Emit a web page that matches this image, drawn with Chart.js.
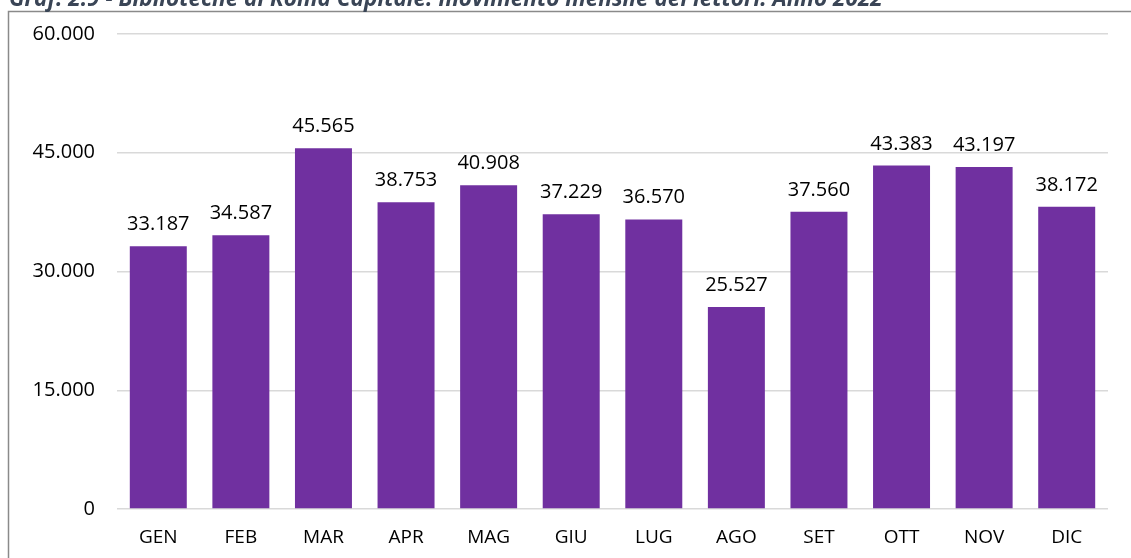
<!DOCTYPE html>
<html>
<head>
<meta charset="utf-8">
<script src="https://cdn.jsdelivr.net/npm/chart.js@4.4.1/dist/chart.umd.min.js"></script>
<style>
  html, body { margin: 0; padding: 0; background: #ffffff; }
  #wrap { position: relative; width: 1131px; height: 558px; }
</style>
</head>
<body>
<div id="wrap"><canvas id="c" width="1131" height="558"></canvas></div>
<script>
const titleText = "Graf. 2.9 - Biblioteche di Roma Capitale: movimento mensile dei lettori. Anno 2022";
const months = ["GEN", "FEB", "MAR", "APR", "MAG", "GIU", "LUG", "AGO", "SET", "OTT", "NOV", "DIC"];
const lettori = [33187, 34587, 45565, 38753, 40908, 37229, 36570, 25527, 37560, 43383, 43197, 38172];
const yTicks = [0, 15000, 30000, 45000, 60000];

const FONT = "'Open Sans', 'Liberation Sans', sans-serif";

function fmt(v) {
  const s = String(Math.round(v));
  return s.replace(/\B(?=(\d{3})+(?!\d))/g, ".");
}

const framePlugin = {
  id: 'frame',
  beforeDraw(chart) {
    const ctx = chart.ctx;
    ctx.save();
    ctx.fillStyle = '#ffffff';
    ctx.fillRect(0, 0, chart.width, chart.height);
    ctx.strokeStyle = '#8a8a8a';
    ctx.lineWidth = 1.5;
    ctx.beginPath();
    ctx.moveTo(8.5, chart.height + 5);
    ctx.lineTo(8.5, 11.5);
    ctx.lineTo(chart.width + 5, 11.5);
    ctx.stroke();
    // title (clipped at top)
    let size = 20;
    ctx.font = `italic bold ${size}px ${FONT}`;
    const w = ctx.measureText(titleText).width;
    size = size * 874 / w;
    ctx.font = `italic bold ${size}px ${FONT}`;
    ctx.fillStyle = '#3a4556';
    ctx.textBaseline = 'alphabetic';
    ctx.textAlign = 'left';
    ctx.fillText(titleText, 9, 6);
    ctx.restore();
  }
};

const labelPlugin = {
  id: 'vlabels',
  afterDatasetsDraw(chart) {
    const ctx = chart.ctx;
    const meta = chart.getDatasetMeta(0);
    ctx.save();
    ctx.font = `20px ${FONT}`;
    ctx.fillStyle = '#000000';
    ctx.textAlign = 'center';
    ctx.textBaseline = 'alphabetic';
    meta.data.forEach((bar, i) => {
      ctx.fillText(fmt(chart.data.datasets[0].data[i]), bar.x, bar.y - 16);
    });
    ctx.restore();
  }
};

new Chart(document.getElementById('c'), {
  type: 'bar',
  data: {
    labels: months,
    datasets: [{
      data: lettori,
      backgroundColor: '#7030a0',
      borderWidth: 0,
      barPercentage: 0.69,
      categoryPercentage: 1.0
    }]
  },
  options: {
    responsive: false,
    animation: false,
    devicePixelRatio: 1,
    layout: { padding: { left: 9, right: 23, top: 34, bottom: 0 } },
    plugins: {
      legend: { display: false },
      tooltip: { enabled: false },
      title: { display: false }
    },
    scales: {
      x: {
        grid: { display: false, drawTicks: false },
        border: { display: false },
        ticks: { color: '#000000', font: { family: FONT, size: 19 }, padding: 17 },
        afterFit(scale) { scale.height = 49; }
      },
      y: {
        min: 0,
        max: 60000,
        afterBuildTicks(scale) { scale.ticks = yTicks.map(v => ({ value: v })); },
        grid: { color: '#d9d9d9', lineWidth: 1.5, drawTicks: false },
        border: { display: false },
        ticks: {
          color: '#000000',
          font: { family: FONT, size: 20 },
          padding: 22,
          callback: (v) => fmt(v)
        },
        afterFit(scale) { scale.width = 108; }
      }
    }
  },
  plugins: [framePlugin, labelPlugin]
});
</script>
</body>
</html>
